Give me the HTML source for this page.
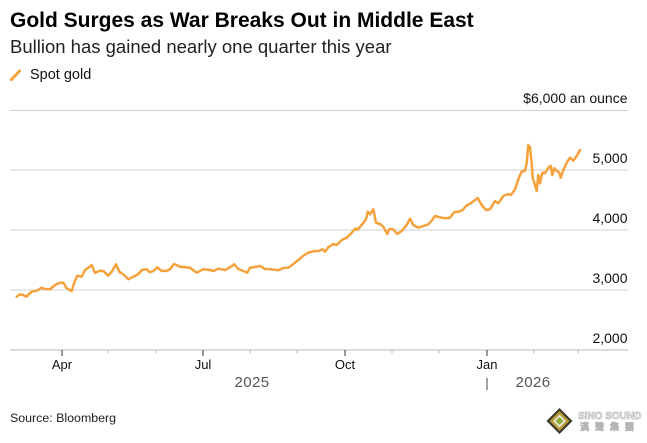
<!DOCTYPE html>
<html><head><meta charset="utf-8"><style>
html,body{margin:0;padding:0;background:#fff;}
svg{display:block;}
text{font-family:"Liberation Sans",Arial,sans-serif;}
</style></head><body>
<svg width="647" height="443" viewBox="0 0 647 443" xmlns="http://www.w3.org/2000/svg">
<rect width="647" height="443" fill="#fff"/>
<text x="10" y="27" font-size="21" font-weight="bold" fill="#000">Gold Surges as War Breaks Out in Middle East</text>
<text x="10" y="53" font-size="18.5" fill="#222">Bullion has gained nearly one quarter this year</text>
<line x1="11.5" y1="79.5" x2="19.5" y2="71" stroke="#F5A23C" stroke-width="3" stroke-linecap="round"/>
<text x="30" y="79" font-size="14.5" fill="#111">Spot gold</text>

<g stroke="#d2d2d2" stroke-width="1">
<line x1="10" y1="110.5" x2="628" y2="110.5"/>
<line x1="10" y1="170" x2="628" y2="170"/>
<line x1="10" y1="230" x2="628" y2="230"/>
<line x1="10" y1="290" x2="628" y2="290"/>
</g>
<line x1="10" y1="350" x2="628" y2="350" stroke="#cfcfcf" stroke-width="1.6"/>

<g font-size="14" fill="#111" text-anchor="end">
<text x="627.5" y="103">$6,000 an ounce</text>
<text x="627.5" y="163">5,000</text>
<text x="627.5" y="223">4,000</text>
<text x="627.5" y="283">3,000</text>
<text x="627.5" y="343">2,000</text>
</g>

<g stroke="#333" stroke-width="1">
<line x1="62" y1="350" x2="62" y2="356"/>
<line x1="203" y1="350" x2="203" y2="356"/>
<line x1="345" y1="350" x2="345" y2="356"/>
<line x1="487" y1="350" x2="487" y2="356"/>
</g>
<g stroke="#bbb" stroke-width="1">
<line x1="108" y1="350" x2="108" y2="353.5"/>
<line x1="156" y1="350" x2="156" y2="353.5"/>
<line x1="250" y1="350" x2="250" y2="353.5"/>
<line x1="297" y1="350" x2="297" y2="353.5"/>
<line x1="392" y1="350" x2="392" y2="353.5"/>
<line x1="439" y1="350" x2="439" y2="353.5"/>
<line x1="534" y1="350" x2="534" y2="353.5"/>
<line x1="578" y1="350" x2="578" y2="353.5"/>
</g>
<g font-size="13" fill="#111" text-anchor="middle">
<text x="62" y="369">Apr</text>
<text x="203" y="369">Jul</text>
<text x="345" y="369">Oct</text>
<text x="487" y="369">Jan</text>
</g>
<g font-size="15" fill="#555" text-anchor="middle" letter-spacing="0.4">
<text x="252" y="387">2025</text>
<text x="533" y="387">2026</text>
</g>
<line x1="487" y1="378" x2="487" y2="390" stroke="#444" stroke-width="1"/>

<polyline fill="none" stroke="#F5A23C" stroke-width="2.5" stroke-linejoin="round" stroke-linecap="round" points="16.7,296.7 20,294.3 23,295 26.7,296.7 29,294 31.7,291.7 36.7,290.7 41.7,287.7 45,289 50,289.3 55,285 60,282.7 63.3,282.7 66.7,288.3 71.7,291 74,283.3 77.3,275.7 81.7,276.7 85,270 88,268 91.7,265 95,272.7 100,270.7 103.3,271 108.3,275.7 111.7,271.7 116,264.3 119.3,271.7 124,275 128.3,279.3 133.3,276.7 138.3,274.3 141.7,270 146.7,269.3 150,272.3 153.3,271 157.3,267.3 161.7,271 166.7,270.7 170,269.3 174,264 180,266.7 190,267.7 196.7,272.7 203.3,269.3 210,270 213.3,271 218.3,268.7 225,270 230,267.3 234.3,264.3 238.3,269 243.3,271 247.3,272.7 250,267.7 255,267 260,266 265,269 271.7,269.3 278.3,270.3 283.3,268 288.3,267.7 293.3,264 298.3,260 303.3,255.7 308.3,252.7 313.3,251.3 318.3,251 322.7,249.3 325,251.7 328.3,247.3 333.3,244 336.7,245 341.7,240 346.7,237.7 351.7,232.7 355.7,228.3 357.3,230 361.7,225 366,219.3 367.7,211.7 370,214.3 373.3,209.3 376,222.7 380,224 383.3,226.7 387.3,234 389.3,229 393.3,229.3 397.3,234 401.7,231 406.7,225 410,218.7 413.3,225 418.3,227.7 423.3,226 428.3,224.3 431.7,220.7 435,216 440,217.3 445,218.3 450,217.7 454,212.3 458.3,211.7 462.7,210 466,206 471.7,202.7 477.7,198 481.7,205 486,210 490,209.3 495,201 498.3,203.3 503.3,196 508.3,194 511,195 515,189.3 519.3,176.7 521.7,171.7 525,170.7 526.7,163.3 528.3,145 530,147.3 531.7,163.3 532.7,177.7 535,185 536.7,191 538.3,175 540,183.3 542.3,172.7 545,173.3 548.3,167.7 550.7,165.7 552.3,175 554.3,168.3 556.7,170.7 559.3,172.7 560.7,177.7 563.3,170 566.7,162.7 570,157.7 573.3,160.7 576.7,156 580,150"/>

<text x="10" y="422" font-size="12.4" fill="#222">Source: Bloomberg</text>

<g>
<polygon points="559.5,408 572.5,421 559.5,434 546.5,421" fill="#3a3a2a"/>
<polygon points="559.5,411 569.5,421 559.5,431 549.5,421" fill="#b99a3a"/>
<polygon points="559.5,414.5 566,421 559.5,427.5 553,421" fill="#e8e8d8"/>
<polygon points="559.5,417 563.5,421 559.5,425 555.5,421" fill="#8fae3a"/>
<text x="578" y="419" font-size="10" font-weight="bold" fill="#fff" stroke="#b5b5b5" stroke-width="0.7">SINO SOUND</text>
<text x="580" y="430" font-size="9" font-weight="bold" fill="#fff" stroke="#b5b5b5" stroke-width="0.6" letter-spacing="6" font-family="'Liberation Sans','Noto Sans CJK TC',sans-serif">漢聲集團</text>
</g>
</svg>
</body></html>
